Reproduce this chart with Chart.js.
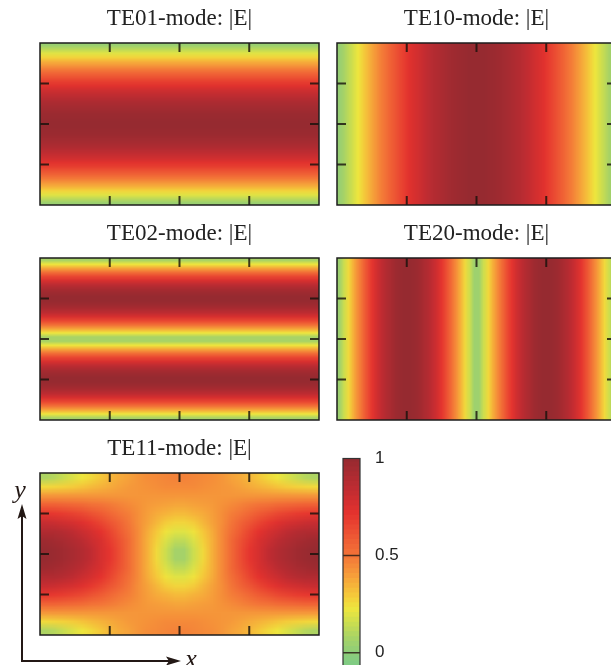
<!DOCTYPE html>
<html><head><meta charset="utf-8">
<script src="https://cdn.jsdelivr.net/npm/chart.js@4.4.1/dist/chart.umd.min.js"></script>
<style>
html,body{margin:0;padding:0;background:#fff;overflow:hidden;}
#wrap{position:relative;width:611px;height:665px;overflow:hidden;background:#fff;}
canvas{position:absolute;}
canvas.heat{image-rendering:auto;}
svg{position:absolute;left:0;top:0;}
</style></head><body>
<div id="wrap">
<canvas class="heat" id="te01h" width="4" height="40" style="left:40px;top:43px;width:279px;height:162px"></canvas>
<canvas class="heat" id="te10h" width="60" height="4" style="left:337px;top:43px;width:279px;height:162px"></canvas>
<canvas class="heat" id="te02h" width="4" height="40" style="left:40px;top:258px;width:279px;height:162px"></canvas>
<canvas class="heat" id="te20h" width="60" height="4" style="left:337px;top:258px;width:279px;height:162px"></canvas>
<canvas class="heat" id="te11h" width="30" height="18" style="left:40px;top:473px;width:279px;height:162px"></canvas>
<canvas id="te01" width="283" height="207" style="left:38px;top:0px"></canvas>
<canvas id="te10" width="283" height="207" style="left:335px;top:0px"></canvas>
<canvas id="te02" width="283" height="207" style="left:38px;top:215px"></canvas>
<canvas id="te20" width="283" height="207" style="left:335px;top:215px"></canvas>
<canvas id="te11" width="283" height="207" style="left:38px;top:430px"></canvas>
<canvas id="cbar" width="59" height="230" style="left:341px;top:440px"></canvas>
<svg width="611" height="665">
  <g stroke="#231815" stroke-width="2" fill="none">
    <line x1="22" y1="661" x2="22" y2="514"/>
    <line x1="21" y1="661" x2="170" y2="661"/>
  </g>
  <g fill="#231815">
    <polygon points="22,504 17.5,519 22,516 26.5,519"/>
    <polygon points="181,661 166,656.5 169,661 166,665.5"/>
  </g>
  <text x="20" y="498" font-family="'Liberation Serif','Times New Roman',serif" font-style="italic" font-size="26" fill="#231815" text-anchor="middle">y</text>
  <text x="191" y="667" font-family="'Liberation Serif','Times New Roman',serif" font-style="italic" font-size="26" fill="#231815" text-anchor="middle">x</text>
</svg>
</div>
<script>
// ---------------- data ----------------
const panelTitles = ['TE01-mode: |E|','TE10-mode: |E|','TE02-mode: |E|','TE20-mode: |E|','TE11-mode: |E|'];

// |E| across y (bottom -> top), uniform along x
const te01Profile = [0.04,0.12,0.20,0.27,0.35,0.42,0.49,0.56,0.62,0.68,0.73,0.79,0.83,0.87,0.91,0.94,0.96,0.98,0.99,1.00,
                     1.00,0.99,0.98,0.96,0.94,0.91,0.87,0.83,0.79,0.73,0.68,0.62,0.56,0.49,0.42,0.35,0.27,0.20,0.12,0.04];
const te02Profile = [0.08,0.23,0.38,0.52,0.65,0.76,0.85,0.92,0.97,1.00,1.00,0.97,0.92,0.85,0.76,0.65,0.52,0.38,0.23,0.08,
                     0.08,0.23,0.38,0.52,0.65,0.76,0.85,0.92,0.97,1.00,1.00,0.97,0.92,0.85,0.76,0.65,0.52,0.38,0.23,0.08];
// |E| across x (left -> right), uniform along y
const te10Profile = [0.03,0.08,0.13,0.18,0.23,0.28,0.33,0.38,0.43,0.48,0.52,0.57,0.61,0.65,0.69,0.73,0.76,0.79,0.82,0.85,
                     0.88,0.90,0.92,0.94,0.96,0.97,0.98,0.99,1.00,1.00,1.00,1.00,0.99,0.98,0.97,0.96,0.94,0.92,0.90,0.88,
                     0.85,0.82,0.79,0.76,0.73,0.69,0.65,0.61,0.57,0.52,0.48,0.43,0.38,0.33,0.28,0.23,0.18,0.13,0.08,0.03];
const te20Profile = [0.05,0.16,0.26,0.36,0.45,0.54,0.63,0.71,0.78,0.84,0.89,0.93,0.97,0.99,1.00,1.00,0.99,0.97,0.93,0.89,
                     0.84,0.78,0.71,0.63,0.54,0.45,0.36,0.26,0.16,0.05,0.05,0.16,0.26,0.36,0.45,0.54,0.63,0.71,0.78,0.84,
                     0.89,0.93,0.97,0.99,1.00,1.00,0.99,0.97,0.93,0.89,0.84,0.78,0.71,0.63,0.54,0.45,0.36,0.26,0.16,0.05];
// |E| grid, rows bottom -> top, columns left -> right
const te11Grid = [
 [0.09,0.11,0.15,0.19,0.23,0.26,0.30,0.34,0.37,0.39,0.42,0.44,0.45,0.46,0.47,0.47,0.46,0.45,0.44,0.42,0.39,0.37,0.34,0.30,0.26,0.23,0.19,0.15,0.11,0.09],
 [0.26,0.27,0.28,0.29,0.31,0.33,0.35,0.37,0.39,0.41,0.42,0.43,0.44,0.45,0.45,0.45,0.45,0.44,0.43,0.42,0.41,0.39,0.37,0.35,0.33,0.31,0.29,0.28,0.27,0.26],
 [0.42,0.42,0.42,0.42,0.42,0.42,0.42,0.42,0.42,0.42,0.42,0.42,0.42,0.42,0.42,0.42,0.42,0.42,0.42,0.42,0.42,0.42,0.42,0.42,0.42,0.42,0.42,0.42,0.42,0.42],
 [0.57,0.57,0.56,0.55,0.54,0.52,0.51,0.49,0.47,0.45,0.43,0.41,0.40,0.39,0.38,0.38,0.39,0.40,0.41,0.43,0.45,0.47,0.49,0.51,0.52,0.54,0.55,0.56,0.57,0.57],
 [0.71,0.70,0.69,0.67,0.65,0.62,0.59,0.55,0.51,0.48,0.44,0.40,0.37,0.35,0.33,0.33,0.35,0.37,0.40,0.44,0.48,0.51,0.55,0.59,0.62,0.65,0.67,0.69,0.70,0.71],
 [0.82,0.81,0.79,0.77,0.74,0.70,0.66,0.61,0.56,0.50,0.44,0.39,0.34,0.29,0.27,0.27,0.29,0.34,0.39,0.44,0.50,0.56,0.61,0.66,0.70,0.74,0.77,0.79,0.81,0.82],
 [0.90,0.90,0.88,0.85,0.81,0.77,0.72,0.66,0.59,0.52,0.45,0.37,0.30,0.24,0.20,0.20,0.24,0.30,0.37,0.45,0.52,0.59,0.66,0.72,0.77,0.81,0.85,0.88,0.90,0.90],
 [0.97,0.95,0.93,0.90,0.86,0.81,0.76,0.69,0.62,0.54,0.45,0.36,0.28,0.19,0.13,0.13,0.19,0.28,0.36,0.45,0.54,0.62,0.69,0.76,0.81,0.86,0.90,0.93,0.95,0.97],
 [1.00,0.98,0.96,0.93,0.89,0.84,0.77,0.71,0.63,0.54,0.45,0.36,0.26,0.16,0.07,0.07,0.16,0.26,0.36,0.45,0.54,0.63,0.71,0.77,0.84,0.89,0.93,0.96,0.98,1.00],
 [1.00,0.98,0.96,0.93,0.89,0.84,0.77,0.71,0.63,0.54,0.45,0.36,0.26,0.16,0.07,0.07,0.16,0.26,0.36,0.45,0.54,0.63,0.71,0.77,0.84,0.89,0.93,0.96,0.98,1.00],
 [0.97,0.95,0.93,0.90,0.86,0.81,0.76,0.69,0.62,0.54,0.45,0.36,0.28,0.19,0.13,0.13,0.19,0.28,0.36,0.45,0.54,0.62,0.69,0.76,0.81,0.86,0.90,0.93,0.95,0.97],
 [0.90,0.90,0.88,0.85,0.81,0.77,0.72,0.66,0.59,0.52,0.45,0.37,0.30,0.24,0.20,0.20,0.24,0.30,0.37,0.45,0.52,0.59,0.66,0.72,0.77,0.81,0.85,0.88,0.90,0.90],
 [0.82,0.81,0.79,0.77,0.74,0.70,0.66,0.61,0.56,0.50,0.44,0.39,0.34,0.29,0.27,0.27,0.29,0.34,0.39,0.44,0.50,0.56,0.61,0.66,0.70,0.74,0.77,0.79,0.81,0.82],
 [0.71,0.70,0.69,0.67,0.65,0.62,0.59,0.55,0.51,0.48,0.44,0.40,0.37,0.35,0.33,0.33,0.35,0.37,0.40,0.44,0.48,0.51,0.55,0.59,0.62,0.65,0.67,0.69,0.70,0.71],
 [0.57,0.57,0.56,0.55,0.54,0.52,0.51,0.49,0.47,0.45,0.43,0.41,0.40,0.39,0.38,0.38,0.39,0.40,0.41,0.43,0.45,0.47,0.49,0.51,0.52,0.54,0.55,0.56,0.57,0.57],
 [0.42,0.42,0.42,0.42,0.42,0.42,0.42,0.42,0.42,0.42,0.42,0.42,0.42,0.42,0.42,0.42,0.42,0.42,0.42,0.42,0.42,0.42,0.42,0.42,0.42,0.42,0.42,0.42,0.42,0.42],
 [0.26,0.27,0.28,0.29,0.31,0.33,0.35,0.37,0.39,0.41,0.42,0.43,0.44,0.45,0.45,0.45,0.45,0.44,0.43,0.42,0.41,0.39,0.37,0.35,0.33,0.31,0.29,0.28,0.27,0.26],
 [0.09,0.11,0.15,0.19,0.23,0.26,0.30,0.34,0.37,0.39,0.42,0.44,0.45,0.46,0.47,0.47,0.46,0.45,0.44,0.42,0.39,0.37,0.34,0.30,0.26,0.23,0.19,0.15,0.11,0.09]
];
// colour bar levels and labels
const cbLevels = [-0.075,-0.05,-0.025,0,0.025,0.05,0.075,0.1,0.125,0.15,0.175,0.2,0.225,0.25,0.275,0.3,0.325,0.35,0.375,0.4,
                  0.425,0.45,0.475,0.5,0.525,0.55,0.575,0.6,0.625,0.65,0.675,0.7,0.725,0.75,0.775,0.8,0.825,0.85,0.875,0.9,
                  0.925,0.95,0.975,1.0];
const cbTicks = [0, 0.5, 1];
const panelTicks = [0.25, 0.5, 0.75];

// ---------------- style ----------------
const cmapStops = [
  [-0.1,[118,203,140]],[0.00,[140,205,122]],[0.08,[168,211,102]],[0.16,[205,222,78]],
  [0.23,[238,230,62]],[0.30,[245,200,58]],[0.40,[246,158,58]],[0.50,[243,118,56]],
  [0.60,[238,88,52]],[0.72,[228,50,46]],[0.85,[190,44,50]],[1.00,[150,42,48]]
];
function colorOf(v){
  if (v <= cmapStops[0][0]) return 'rgb(' + cmapStops[0][1].join(',') + ')';
  for (let k = 1; k < cmapStops.length; k++){
    const [v1, c1] = cmapStops[k];
    if (v <= v1){
      const [v0, c0] = cmapStops[k-1];
      const t = (v - v0) / (v1 - v0);
      const c = c0.map((a, i) => Math.round(a + (c1[i] - a) * t));
      return 'rgb(' + c.join(',') + ')';
    }
  }
  return 'rgb(' + cmapStops[cmapStops.length-1][1].join(',') + ')';
}
const serif = "'Liberation Serif','Times New Roman',serif";
const sans = "'Liberation Sans',Arial,Helvetica,sans-serif";

const unitScales = () => ({
  x: {type: 'linear', min: 0, max: 1, display: false, offset: false},
  y: {type: 'linear', min: 0, max: 1, display: false, offset: false}
});
const barStyle = {grouped: false, barPercentage: 1, categoryPercentage: 1, borderWidth: 0, inflateAmount: 0};

// heat layer: one cell per canvas pixel, smoothly scaled up by the browser
function heatChart(id, datasets, indexAxis){
  new Chart(document.getElementById(id), {
    type: 'bar', data: {datasets},
    options: {
      responsive: false, animation: false, events: [], devicePixelRatio: 1, indexAxis,
      layout: {padding: 0, autoPadding: false},
      scales: unitScales(),
      plugins: {legend: {display: false}, tooltip: {enabled: false}, title: {display: false}}
    }
  });
}
function rowCells(profile){
  const n = profile.length;
  return [Object.assign({data: profile.map((v, i) => ({y: (i + 0.5) / n, x: [0, 1]})),
                         backgroundColor: profile.map(colorOf)}, barStyle)];
}
function colCells(profile){
  const n = profile.length;
  return [Object.assign({data: profile.map((v, i) => ({x: (i + 0.5) / n, y: [0, 1]})),
                         backgroundColor: profile.map(colorOf)}, barStyle)];
}
function gridCells(grid){
  const nr = grid.length;
  return grid.map((row, r) => {
    const nc = row.length;
    return Object.assign({data: row.map((v, c) => ({x: (c + 0.5) / nc, y: [r / nr, (r + 1) / nr]})),
                          backgroundColor: row.map(colorOf)}, barStyle);
  });
}

// frame layer: title, border and inner ticks
const framePlugin = {
  id: 'frame',
  afterDatasetsDraw(chart){
    const {ctx, chartArea: a, scales: {x, y}} = chart;
    ctx.save();
    ctx.strokeStyle = 'rgba(25,18,12,0.82)';
    ctx.lineWidth = 2;
    ctx.beginPath();
    for (const t of panelTicks){
      const px = x.getPixelForValue(t);
      ctx.moveTo(px, a.top); ctx.lineTo(px, a.top + 9);
      ctx.moveTo(px, a.bottom); ctx.lineTo(px, a.bottom - 9);
    }
    for (const t of panelTicks){
      const py = y.getPixelForValue(t);
      ctx.moveTo(a.left, py); ctx.lineTo(a.left + 9, py);
      ctx.moveTo(a.right, py); ctx.lineTo(a.right - 9, py);
    }
    ctx.stroke();
    ctx.strokeStyle = '#1c1c1c';
    ctx.lineWidth = 1.5;
    ctx.strokeRect(a.left, a.top, a.right - a.left, a.bottom - a.top);
    ctx.restore();
  }
};
function frameChart(id, title){
  new Chart(document.getElementById(id), {
    type: 'scatter', data: {datasets: []},
    options: {
      responsive: false, animation: false, events: [], devicePixelRatio: 1,
      layout: {padding: {left: 2, right: 2, top: 0, bottom: 2}, autoPadding: false},
      scales: unitScales(),
      plugins: {
        legend: {display: false}, tooltip: {enabled: false},
        title: {display: true, text: title, color: '#222',
                font: {family: serif, size: 23, weight: 'normal', lineHeight: 1.2},
                padding: {top: 5.4, bottom: 10}}
      }
    },
    plugins: [framePlugin]
  });
}

heatChart('te01h', rowCells(te01Profile), 'y');
heatChart('te10h', colCells(te10Profile), 'x');
heatChart('te02h', rowCells(te02Profile), 'y');
heatChart('te20h', colCells(te20Profile), 'x');
heatChart('te11h', gridCells(te11Grid), 'x');
frameChart('te01', panelTitles[0]);
frameChart('te10', panelTitles[1]);
frameChart('te02', panelTitles[2]);
frameChart('te20', panelTitles[3]);
frameChart('te11', panelTitles[4]);

// colour bar
const cbPlugin = {
  id: 'cbframe',
  afterDatasetsDraw(chart){
    const {ctx, chartArea: a, scales: {y}} = chart;
    ctx.save();
    ctx.strokeStyle = 'rgba(45,30,22,0.85)';
    ctx.lineWidth = 1.5;
    ctx.beginPath();
    for (const t of cbTicks){
      if (t >= 1) continue;
      const py = y.getPixelForValue(t);
      ctx.moveTo(a.left, py); ctx.lineTo(a.right, py);
    }
    ctx.stroke();
    ctx.strokeStyle = '#333';
    ctx.lineWidth = 1.2;
    ctx.strokeRect(a.left, a.top, a.right - a.left, a.bottom - a.top + 5);
    ctx.restore();
  }
};
new Chart(document.getElementById('cbar'), {
  type: 'bar',
  data: {datasets: [Object.assign({
    data: cbLevels.map(v => ({y: v, x: [0, 1]})),
    backgroundColor: cbLevels.map(colorOf)
  }, barStyle, {inflateAmount: 0.5})]},
  options: {
    responsive: false, animation: false, events: [], indexAxis: 'y', devicePixelRatio: 1,
    layout: {padding: {left: 2, right: 0, top: 18.5, bottom: 0}, autoPadding: false},
    scales: {
      x: {type: 'linear', min: 0, max: 1, display: false, offset: false},
      y: {type: 'linear', position: 'right', min: -0.089, max: 1, offset: false,
          grid: {display: false, drawTicks: false}, border: {display: false},
          afterBuildTicks: ax => { ax.ticks = cbTicks.map(v => ({value: v})); },
          afterFit: ax => { ax.width = 40; ax.paddingTop = 0; ax.paddingBottom = 0; },
          ticks: {padding: 15, color: '#222', font: {family: sans, size: 17},
                  callback: v => String(v)}}
    },
    plugins: {legend: {display: false}, tooltip: {enabled: false}, title: {display: false}}
  },
  plugins: [cbPlugin]
});
</script>
</body></html>
